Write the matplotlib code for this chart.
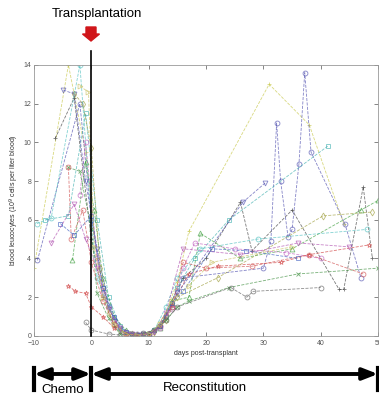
import numpy as np
import matplotlib
matplotlib.use('Agg')
from matplotlib import pyplot as plt
from matplotlib.patches import FancyArrow

plt.rcParams['font.family'] = ['Liberation Sans', 'DejaVu Sans']

# leucocyte counts per patient (days relative to transplant, 10^9 cells / l)
days = [
    [-10, -4, -1, 1, 3, 5, 7, 9, 11, 13, 15, 17, 31, 38, 44],
    [-9.4, -2, 0, 2, 4, 6, 8, 10, 12, 14, 16, 30, 31.3, 32.3, 33, 34.3, 35, 36.2, 37.2, 38.3, 44.2, 47],
    [-6.3, -3, 0, 2, 4, 6, 8, 10, 12, 14, 16, 20, 26, 28, 35, 43.2, 44, 47.4, 49],
    [-8, -4, -1, 1, 3, 5, 7, 9, 11, 13, 15, 18, 24, 41.2],
    [-4, -2.8, -1, 0, 2, 4, 6, 8, 10, 12, 14, 17, 22, 33, 38, 48.4],
    [-3.3, -1, 0.5, 2, 4, 6, 8, 10, 12, 14, 17, 19, 26, 35, 47, 50],
    [-2, -1, 1, 2, 4, 6, 8, 10, 12, 14, 16, 18, 25, 34, 40],
    [-4.9, -3, -1, 1, 3, 5, 7, 9, 11, 13, 15, 26.4, 30.3],
    [-3, -1.5, 0, 1.5, 3, 5, 7, 9, 11, 13, 15, 22, 40.4, 49],
    [-9.5, -7, -2, 0, 1, 3, 5, 7, 9, 11, 13, 15, 19, 29, 48],
    [-4, -2, 0, 1, 3, 5, 7, 9, 11, 13, 15, 17, 24, 36, 50],
    [-1, 0, 3, 5, 7, 9, 11, 13, 15, 24.3, 27.1, 28.2, 40],
    [-4, -3.5, -1.5, 0, 2, 4, 6, 8, 10, 12, 14, 16, 20, 28, 38, 47.4],
    [-5.4, -3, 0, 2, 4, 6, 8, 10, 12, 14, 16, 21, 27, 36],
    [-7, -3, -1, 1, 3, 5, 7, 9, 11, 13, 16, 26, 36, 45],
    [-2, -0.5, 0.5, 2, 4, 6, 8, 10, 12, 14, 17, 21, 35],
]
counts = [
    [3.5, 14.0, 9.5, 4.0, 1.5, 0.3, 0.1, 0.1, 0.3, 1.2, 2.8, 5.4, 13.0, 10.9, 5.8],
    [3.9, 12.0, 6.0, 2.5, 0.8, 0.1, 0.1, 0.1, 0.5, 1.5, 3.0, 3.5, 4.9, 11.0, 8.0, 5.1, 5.5, 8.9, 13.6, 9.5, 5.8, 3.0],
    [10.2, 12.3, 5.0, 2.0, 0.5, 0.1, 0.05, 0.1, 0.6, 1.8, 3.0, 4.0, 6.9, 4.4, 6.5, 2.4, 2.4, 7.7, 4.0],
    [6.0, 6.2, 11.5, 6.0, 2.0, 0.5, 0.1, 0.1, 0.3, 1.0, 2.5, 4.0, 6.0, 9.8],
    [2.6, 2.3, 2.2, 1.5, 1.0, 0.4, 0.1, 0.05, 0.1, 0.5, 1.6, 3.2, 3.6, 3.8, 4.2, 4.7],
    [3.9, 9.0, 6.5, 3.0, 1.0, 0.3, 0.1, 0.1, 0.4, 1.8, 2.0, 5.3, 4.0, 4.5, 6.5, 7.0],
    [7.3, 10.0, 4.0, 2.2, 0.8, 0.2, 0.05, 0.1, 0.4, 1.4, 3.5, 4.8, 4.5, 4.3, 4.0],
    [12.7, 12.5, 8.0, 4.5, 1.5, 0.3, 0.05, 0.1, 0.2, 1.0, 2.2, 6.9, 7.9],
    [12.5, 12.0, 9.7, 3.5, 1.2, 0.3, 0.1, 0.05, 0.2, 0.8, 2.0, 3.0, 6.2, 6.4],
    [5.8, 6.1, 14.0, 6.0, 3.0, 1.5, 0.4, 0.1, 0.05, 0.3, 1.5, 3.0, 4.5, 5.0, 5.5],
    [8.7, 8.5, 5.5, 2.2, 0.9, 0.1, 0.05, 0.1, 0.3, 0.8, 1.5, 1.8, 2.5, 3.2, 3.5],
    [0.7, 0.3, 0.1, 0.05, 0.1, 0.15, 0.3, 0.8, 1.5, 2.5, 2.0, 2.3, 2.5],
    [8.7, 5.0, 6.5, 3.8, 1.8, 0.6, 0.1, 0.05, 0.1, 0.5, 1.5, 3.8, 3.5, 3.6, 4.2, 3.2],
    [5.8, 5.2, 6.2, 2.5, 1.0, 0.2, 0.05, 0.1, 0.5, 1.7, 2.3, 4.5, 4.4, 4.0],
    [4.8, 6.8, 5.0, 3.5, 1.4, 0.4, 0.1, 0.05, 0.2, 1.2, 4.5, 4.2, 4.8, 4.6],
    [12.9, 12.6, 4.6, 2.0, 0.6, 0.1, 0.05, 0.1, 0.6, 1.8, 2.6, 3.8, 4.6],
]

xticks = [-10, 0, 10, 20, 30, 40, 50]
yticks = [0, 2, 4, 6, 8, 10, 12, 14]

colors = ['#c8c84a', '#5050b0', '#404040', '#40b0b0', '#d04040', '#40a040',
          '#c060c0', '#5050b0', '#a0a040', '#50c0c0', '#409040', '#606060',
          '#d05050', '#4060c0', '#b050b0', '#c8c060']
markers = ['+', 'o', '+', 's', '*', '^', 'o', 'v', 'd', 'o', 'x', 'o',
           'o', 's', 'v', '>']

fig = plt.figure(figsize=(3.79, 3.98), dpi=100)
ax = fig.add_axes([0.0897, 0.156, 0.908, 0.681])

for d, c, col, m in zip(days, counts, colors, markers):
    ax.plot(d, c, linestyle='--', color=col, lw=0.6, marker=m, ms=3.5,
            mfc='none', mew=0.6, alpha=0.7)

# transplant day
ax.plot([0, 0], [0, 14.7], color='black', lw=1.2, clip_on=False, zorder=5)

ax.set_xlim(-10, 50)
ax.set_ylim(0, 14)
ax.set_xticks(xticks)
ax.set_yticks(yticks)
ax.tick_params(direction='in', length=3, width=0.5, labelsize=5, colors='#555555',
               top=True, right=True)
ax.tick_params(axis='x', pad=3)
ax.tick_params(axis='y', pad=2)
for s in ax.spines.values():
    s.set_color('#999999')
    s.set_linewidth(0.6)
ax.set_xlabel('days post-transplant', fontsize=5, color='#333333', labelpad=2)
ax.set_ylabel('blood leucocytes (10$^9$ cells per liter blood)', fontsize=5,
              color='#333333', labelpad=2)

# annotation on top
fig.text(97, 384, 'Transplantation', transform=None, fontsize=9.5,
         ha='center', va='center')
fig.add_artist(FancyArrow(0.91, 3.71, 0, -0.14, width=0.1, head_width=0.17,
                          head_length=0.07, length_includes_head=True,
                          color='#d0161a', transform=fig.dpi_scale_trans))

# phase arrows at bottom
for x0, x1 in [(34, 91), (91, 378)]:
    ax.annotate('', xy=(x1, 24), xytext=(x0, 24), xycoords='figure pixels',
                textcoords='figure pixels',
                arrowprops=dict(arrowstyle='<|-|>,head_length=0.9,head_width=0.35',
                                lw=2.8, color='black', shrinkA=0, shrinkB=0))
for x in [34, 91, 378]:
    fig.add_artist(plt.Line2D([x / 379, x / 379], [8 / 398, 30 / 398],
                              color='black', lw=3, transform=fig.transFigure))
fig.text(63, 8, 'Chemo', transform=None, fontsize=9.5, ha='center', va='center')
fig.text(205, 10, 'Reconstitution', transform=None, fontsize=9.5,
         ha='center', va='center')

fig.savefig('out.png', dpi=100)
